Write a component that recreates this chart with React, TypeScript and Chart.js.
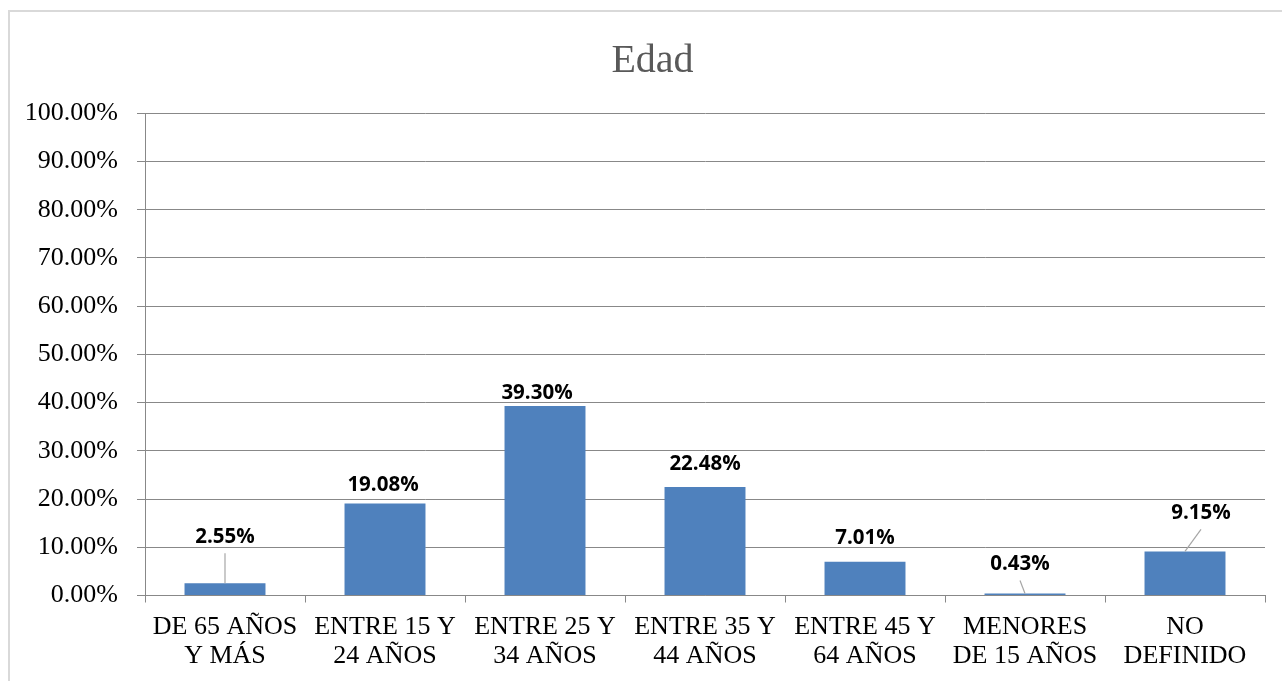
import React, { useEffect, useRef } from "react";
import { Chart, registerables } from "chart.js";

Chart.register(...registerables);

const categories: string[][] = [
  ["DE 65 AÑOS", "Y MÁS"],
  ["ENTRE 15 Y", "24 AÑOS"],
  ["ENTRE 25 Y", "34 AÑOS"],
  ["ENTRE 35 Y", "44 AÑOS"],
  ["ENTRE 45 Y", "64 AÑOS"],
  ["MENORES", "DE 15 AÑOS"],
  ["NO", "DEFINIDO"],
];
const values: number[] = [2.55, 19.08, 39.3, 22.48, 7.01, 0.43, 9.15];
const valueLabels: string[] = ["2.55%", "19.08%", "39.30%", "22.48%", "7.01%", "0.43%", "9.15%"];
const chartTitle = "Edad";

// label placement (pixel offsets of label baseline from the bar top), and leader lines
const labelOffsets = [
  { dx: 0, dy: -40, leader: true },
  { dx: -2, dy: -12, leader: false },
  { dx: -8, dy: -7, leader: false },
  { dx: 0, dy: -17, leader: false },
  { dx: 0, dy: -18, leader: false },
  { dx: -5, dy: -23, leader: true },
  { dx: 16, dy: -32, leader: true },
];

const GRID = "#888888";
const SERIF = "'Liberation Serif', 'Times New Roman', serif";

const frame = {
  id: "frame",
  beforeDraw(chart: any) {
    const ctx = chart.ctx;
    ctx.save();
    ctx.fillStyle = "#ffffff";
    ctx.fillRect(0, 0, chart.width, chart.height);
    ctx.strokeStyle = "#d9d9d9";
    ctx.lineWidth = 2;
    ctx.strokeRect(9, 11, 1300, 700);
    ctx.fillStyle = "#595959";
    ctx.font = `40px ${SERIF}`;
    ctx.textAlign = "center";
    ctx.textBaseline = "alphabetic";
    ctx.fillText(chartTitle, 652.5, 72);
    ctx.restore();
  },
};

const dataLabels = {
  id: "dataLabels",
  afterDatasetsDraw(chart: any) {
    const ctx = chart.ctx;
    const meta = chart.getDatasetMeta(0);
    ctx.save();
    ctx.font = "bold 20.5px 'Open Sans', 'Liberation Sans', sans-serif";
    ctx.textAlign = "center";
    ctx.textBaseline = "alphabetic";
    meta.data.forEach((bar: any, i: number) => {
      const o = labelOffsets[i];
      const lx = bar.x + o.dx;
      const ly = bar.y + o.dy;
      if (o.leader) {
        ctx.strokeStyle = "#a6a6a6";
        ctx.lineWidth = 1.2;
        ctx.beginPath();
        ctx.moveTo(lx, ly + 10);
        ctx.lineTo(bar.x, bar.y);
        ctx.stroke();
      }
      ctx.fillStyle = "#000000";
      ctx.fillText(valueLabels[i], lx, ly);
    });
    ctx.restore();
  },
};

export default function App() {
  const ref = useRef<HTMLCanvasElement | null>(null);
  useEffect(() => {
    if (!ref.current) return;
    const chart = new Chart(ref.current, {
      type: "bar",
      data: {
        labels: categories,
        datasets: [
          {
            data: values,
            backgroundColor: "#4F81BD",
            barPercentage: 0.506,
            categoryPercentage: 1,
          },
        ],
      },
      options: {
        animation: false,
        responsive: true,
        maintainAspectRatio: false,
        layout: { padding: { left: 0, right: 17, top: 113.3, bottom: 0 } },
        plugins: {
          legend: { display: false },
          tooltip: { enabled: false },
          title: { display: false },
        },
        scales: {
          x: {
            afterFit(scale: any) {
              scale.height = 85.5;
            },
            grid: {
              offset: true,
              drawOnChartArea: false,
              drawTicks: true,
              tickLength: 7,
              color: GRID,
            },
            border: { display: true, color: GRID },
            ticks: {
              color: "#000000",
              padding: 10,
              maxRotation: 0,
              autoSkip: false,
              font: { family: SERIF, size: 26, lineHeight: 1.12 },
            },
          },
          y: {
            min: 0,
            max: 100,
            afterFit(scale: any) {
              scale.width = 145;
            },
            grid: { color: GRID, tickLength: 8, drawTicks: true },
            border: { display: true, color: GRID },
            ticks: {
              stepSize: 10,
              color: "#000000",
              padding: 19,
              font: { family: SERIF, size: 26 },
              callback: (v: any) => Number(v).toFixed(2) + "%",
            },
          },
        },
      },
      plugins: [frame, dataLabels],
    });
    return () => chart.destroy();
  }, []);
  return (
    <div style={{ position: "fixed", left: 0, top: 0, width: 1282, height: 681, background: "#fff" }}>
      <canvas ref={ref} />
    </div>
  );
}
